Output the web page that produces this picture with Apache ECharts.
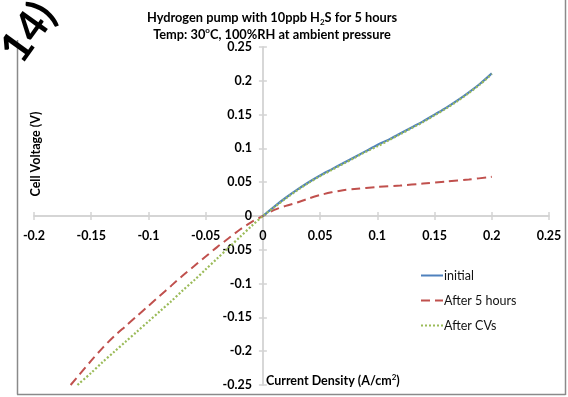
<!DOCTYPE html>
<html>
<head>
<meta charset="utf-8">
<script src="https://cdn.jsdelivr.net/npm/echarts@6/dist/echarts.min.js"></script>
<style>
  html, body { margin: 0; padding: 0; background: #fff; }
  #chart { width: 568px; height: 397px; }
</style>
</head>
<body>
<div id="chart"></div>
<script>
// ---- data ----
const xTicks = { min: -0.2, max: 0.25, interval: 0.05 };
const yTicks = { min: -0.25, max: 0.25, interval: 0.05 };

const initialI = [0, 0.01, 0.02, 0.03, 0.04, 0.05, 0.06, 0.07, 0.08, 0.09, 0.10, 0.11, 0.12, 0.13, 0.14, 0.15, 0.16, 0.17, 0.18, 0.19, 0.20];
const initialV = [0, 0.014, 0.027, 0.039, 0.050, 0.060, 0.069, 0.078, 0.087, 0.096, 0.105, 0.113, 0.122, 0.131, 0.140, 0.150, 0.160, 0.171, 0.183, 0.196, 0.211];

const after5I = [-0.168, -0.16, -0.15, -0.14, -0.13, -0.12, -0.11, -0.10, -0.09, -0.08, -0.07, -0.06, -0.05, -0.04, -0.03, -0.02, -0.01, 0, 0.01, 0.02, 0.03, 0.04, 0.05, 0.06, 0.07, 0.08, 0.10, 0.12, 0.14, 0.16, 0.18, 0.20];
const after5V = [-0.25, -0.234, -0.214, -0.195, -0.178, -0.163, -0.148, -0.133, -0.118, -0.103, -0.088, -0.074, -0.060, -0.046, -0.033, -0.020, -0.009, 0, 0.009, 0.015, 0.020, 0.026, 0.031, 0.035, 0.038, 0.040, 0.043, 0.045, 0.048, 0.051, 0.054, 0.058];

const cvI = [-0.162, -0.15, -0.14, -0.13, -0.12, -0.11, -0.10, -0.09, -0.08, -0.07, -0.06, -0.05, -0.04, -0.03, -0.02, -0.01, 0, 0.01, 0.02, 0.03, 0.04, 0.05, 0.06, 0.07, 0.08, 0.09, 0.10, 0.11, 0.12, 0.13, 0.14, 0.15, 0.16, 0.17, 0.18, 0.19, 0.20];
const cvV = [-0.25, -0.232, -0.216, -0.201, -0.186, -0.171, -0.156, -0.141, -0.126, -0.110, -0.095, -0.079, -0.063, -0.047, -0.031, -0.015, 0, 0.013, 0.026, 0.038, 0.049, 0.059, 0.068, 0.077, 0.086, 0.095, 0.103, 0.112, 0.121, 0.130, 0.139, 0.149, 0.159, 0.170, 0.182, 0.195, 0.210];

const seriesNames = ['initial', 'After 5 hours', 'After CVs'];
const titleLines = ['Hydrogen pump with 10ppb H', '2', 'S for 5 hours', 'Temp: 30', 'o', 'C, 100%RH at ambient pressure'];
const yAxisTitle = 'Cell Voltage (V)';
const xAxisTitle = ['Current Density (A/cm', '2', ')'];
const cornerTag = '14)';

const zip = (a, b) => a.map((v, i) => [v, b[i]]);

const FONT = 'Lato';
const axisColor = '#d4d4d4';
const tickStyle = { color: axisColor, width: 1.5 };
const labelStyle = { fontFamily: FONT, fontWeight: 'bold', fontSize: 12.5, color: '#000' };

// grid box (pixels) and where the zero lines fall inside it (axes cross at 0, Excel style)
const W = 568, H = 397;
const grid = { left: 34, right: 19, top: 47, bottom: 12 };
const gridW = W - grid.left - grid.right, gridH = H - grid.top - grid.bottom;
const xZeroOffset = -gridW * (0 - xTicks.min) / (xTicks.max - xTicks.min);
const yZeroOffset = -gridH * (0 - yTicks.min) / (yTicks.max - yTicks.min);

const xBase = {
  type: 'value', min: xTicks.min, max: xTicks.max, interval: xTicks.interval,
  position: 'bottom', offset: yZeroOffset,
  splitLine: { show: false },
  axisLine: { show: true, onZero: false, lineStyle: { color: axisColor, width: 1.5 } }
};
const yBase = {
  type: 'value', min: yTicks.min, max: yTicks.max, interval: yTicks.interval,
  position: 'left', offset: xZeroOffset,
  splitLine: { show: false },
  axisLine: { show: true, onZero: false, lineStyle: { color: axisColor, width: 1.5 } }
};

const chart = echarts.init(document.getElementById('chart'), null, { renderer: 'canvas' });
chart.setOption({
  animation: false,
  textStyle: { fontFamily: FONT },
  title: {
    text: '{a|' + titleLines[0] + '}{sub|' + titleLines[1] + '}{a|' + titleLines[2] + '}\n{a|' + titleLines[3] + '}{sup|' + titleLines[4] + '}{a|' + titleLines[5] + '}',
    left: 267, top: 4, textAlign: 'center',
    textStyle: {
      rich: {
        a: { fontFamily: FONT, fontWeight: 'bold', fontSize: 12.8, color: '#000', lineHeight: 17 },
        sub: { fontFamily: FONT, fontWeight: 'bold', fontSize: 8, color: '#000', lineHeight: 17, verticalAlign: 'bottom', padding: [6, 0, 0, 0] },
        sup: { fontFamily: FONT, fontWeight: 'bold', fontSize: 8, color: '#000', lineHeight: 17, verticalAlign: 'top', padding: [0, 0, 5, 0] }
      }
    }
  },
  legend: {
    orient: 'vertical', left: 415, top: 264,
    itemWidth: 22, itemHeight: 14, itemGap: 12,
    itemStyle: { opacity: 0 },
    textStyle: { fontFamily: FONT, fontSize: 12.5, color: '#111', padding: [0, 0, 0, -4] },
    data: seriesNames
  },
  grid: Object.assign({ containLabel: false }, grid),
  xAxis: [
    Object.assign({}, xBase, {
      axisTick: { show: true, length: 4, lineStyle: tickStyle },
      axisLabel: Object.assign({ margin: 13 }, labelStyle)
    }),
    Object.assign({}, xBase, {
      axisLabel: { show: false },
      axisTick: { show: true, inside: true, length: 4, lineStyle: tickStyle }
    })
  ],
  yAxis: [
    Object.assign({}, yBase, {
      axisTick: { show: true, length: 4, lineStyle: tickStyle },
      axisLabel: Object.assign({ margin: 11 }, labelStyle)
    }),
    Object.assign({}, yBase, {
      axisLabel: { show: false },
      axisTick: { show: true, inside: true, length: 4, lineStyle: tickStyle }
    })
  ],
  series: [
    {
      name: seriesNames[1], type: 'line', data: zip(after5I, after5V), symbol: 'none', smooth: 0.3,
      lineStyle: { color: '#C0504D', width: 2, type: [9, 5] }, itemStyle: { color: '#C0504D' }, z: 2
    },
    {
      name: seriesNames[0], type: 'line', data: zip(initialI, initialV), symbol: 'none', smooth: 0.3,
      lineStyle: { color: '#4F81BD', width: 2.2, type: 'solid' }, itemStyle: { color: '#4F81BD' }, z: 3
    },
    {
      name: seriesNames[2], type: 'line', data: zip(cvI, cvV), symbol: 'none', smooth: 0.3,
      lineStyle: { color: '#9BBB59', width: 2.2, type: [2, 2] }, itemStyle: { color: '#9BBB59' }, z: 4
    }
  ],
  graphic: [
    { type: 'line', shape: { x1: 17.5, y1: 40, x2: 17.5, y2: 394.5 }, style: { stroke: '#8a8a8a', lineWidth: 1.5 } },
    { type: 'line', shape: { x1: 17, y1: 394.5, x2: 565.5, y2: 394.5 }, style: { stroke: '#8a8a8a', lineWidth: 1.5 } },
    { type: 'line', shape: { x1: 565.5, y1: 0, x2: 565.5, y2: 395 }, style: { stroke: '#8a8a8a', lineWidth: 1.5 } },
    {
      type: 'text', x: 28, y: 70, rotation: 0.95,
      style: { text: cornerTag, font: 'bold 43px ' + FONT, fill: '#000', textAlign: 'left', textVerticalAlign: 'bottom' }
    },
    {
      type: 'text', x: 36, y: 154, rotation: Math.PI / 2,
      style: { text: yAxisTitle, font: 'bold 12.5px ' + FONT, fill: '#000', textAlign: 'center', textVerticalAlign: 'middle' }
    },
    {
      type: 'text', x: 266, y: 381,
      style: {
        text: '{a|' + xAxisTitle[0] + '}{sup|' + xAxisTitle[1] + '}{a|' + xAxisTitle[2] + '}',
        textAlign: 'left', textVerticalAlign: 'middle',
        rich: {
          a: { font: 'bold 12.5px ' + FONT, fill: '#000', lineHeight: 16 },
          sup: { font: 'bold 8px ' + FONT, fill: '#000', lineHeight: 16, verticalAlign: 'top', padding: [0, 0, 5, 0] }
        }
      }
    }
  ]
});
</script>
</body>
</html>
